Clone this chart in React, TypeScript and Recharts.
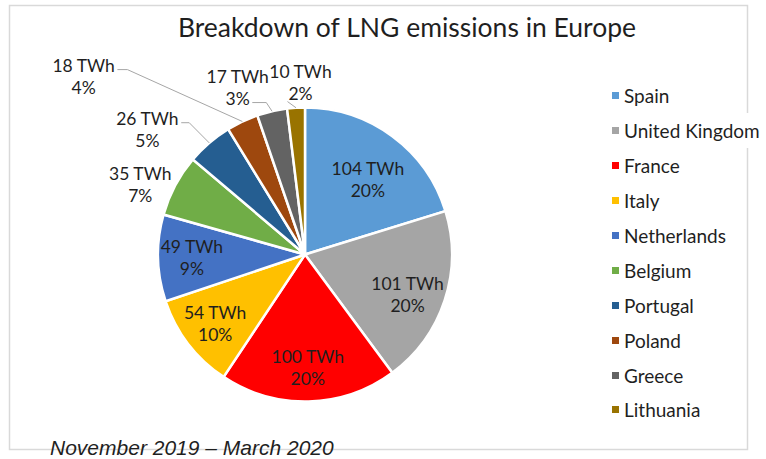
import React from 'react';
import { PieChart, Pie, Cell, Legend, Customized } from 'recharts';

const countries = ['Spain', 'United Kingdom', 'France', 'Italy', 'Netherlands', 'Belgium', 'Portugal', 'Poland', 'Greece', 'Lithuania'];
const twh = [104, 101, 100, 54, 49, 35, 26, 18, 17, 10];
const shares = ['20%', '20%', '20%', '10%', '9%', '7%', '5%', '4%', '3%', '2%'];
const colors = ['#5B9BD5', '#A5A5A5', '#FF0000', '#FFC000', '#4472C4', '#70AD47', '#255E91', '#9E480E', '#636363', '#997300'];

const data = countries.map((name, i) => ({ name, twh: twh[i], share: shares[i] }));

const RAD = Math.PI / 180;
const FONT = 'Lato, "Open Sans", sans-serif';
const TEXT = '#1f1f1f';

// label placement overrides (angle shift in deg, distance from centre), Excel best-fit style
const spots: Record<string, { shift: number; dist: number; leader?: string; run?: number }> = {
  Spain: { shift: 3.5, dist: 98 },
  'United Kingdom': { shift: 3, dist: 110 },
  Belgium: { shift: -5, dist: 179 },
  Portugal: { shift: -11, dist: 201, leader: 'line1', run: 8 },
  Poland: { shift: -26, dist: 284, leader: 'line1', run: 10 },
  Greece: { shift: -9, dist: 180, leader: 'line2', run: 14 },
  Lithuania: { shift: 2, dist: 172, leader: 'below' },
};

const renderLabel = (props: any) => {
  const { cx, cy, midAngle, outerRadius, index } = props;
  const d = data[index];
  const spot = spots[d.name];
  const theta = 90 - midAngle + (spot ? spot.shift : 0);
  const dist = spot ? spot.dist : outerRadius * 0.77;
  const x = cx + dist * Math.sin(theta * RAD);
  const y = cy - dist * Math.cos(theta * RAD);
  const line1 = `${d.twh} TWh`;

  let leader = null;
  if (spot && spot.leader) {
    const tip = (90 - midAngle) * RAD;
    const tx = cx + outerRadius * Math.sin(tip);
    const ty = cy - outerRadius * Math.cos(tip);
    let pts = '';
    if (spot.leader === 'below') {
      pts = `${x - 13},${y + 19} ${tx},${ty}`;
    } else {
      const txt = spot.leader === 'line1' ? line1 : d.share;
      const ly = (spot.leader === 'line1' ? y - 11 : y + 11) + 4;
      const sx = x + txt.length * 4.8 + 5;
      pts = `${sx},${ly} ${sx + (spot.run || 0)},${ly} ${tx},${ty}`;
    }
    leader = <polyline points={pts} fill="none" stroke="#a6a6a6" strokeWidth={1} />;
  }

  return (
    <g>
      {leader}
      <text x={x} y={y - 11} textAnchor="middle" dominantBaseline="central" fontFamily={FONT} fontSize={17.5} fill={TEXT}>
        {line1}
      </text>
      <text x={x} y={y + 11} textAnchor="middle" dominantBaseline="central" fontFamily={FONT} fontSize={17.5} fill={TEXT}>
        {d.share}
      </text>
    </g>
  );
};

const renderLegend = () => (
  <div style={{ fontFamily: FONT, fontSize: 19, color: TEXT, whiteSpace: 'nowrap' }}>
    {countries.map((c, i) => (
      <div key={c} style={{ height: 34.9, display: 'flex', alignItems: 'center' }}>
        <span style={{ display: 'inline-flex', alignItems: 'center', height: '100%', background: '#fff', paddingRight: 2 }}>
          <span style={{ display: 'inline-block', width: 7, height: 7, background: colors[i], marginRight: 5 }} />
          {c}
        </span>
      </div>
    ))}
  </div>
);

const Frame = () => (
  <g>
    <rect x={9.5} y={5.5} width={738} height={444} fill="none" stroke="#d9d9d9" strokeWidth={1.5} />
    <text x={407} y={37} textAnchor="middle" fontFamily={FONT} fontSize={26.5} fill={TEXT}>
      Breakdown of LNG emissions in Europe
    </text>
    <text x={50} y={455} fontFamily='"Liberation Sans", Arial, sans-serif' fontStyle="italic" fontSize={21} fill={TEXT}>
      November 2019 – March 2020
    </text>
  </g>
);

const App = () => {
  return (
    <div style={{ position: 'absolute', left: 0, top: 0, width: 766, height: 459, background: '#fff' }}>
      <PieChart width={766} height={459} margin={{ top: 0, right: 0, bottom: 0, left: 0 }}>
        <Customized component={Frame} />
        <Pie
          data={data}
          dataKey="twh"
          nameKey="name"
          cx={305}
          cy={254.5}
          outerRadius={147}
          startAngle={90}
          endAngle={-270}
          stroke="#fff"
          strokeWidth={2.5}
          label={renderLabel}
          labelLine={false}
          isAnimationActive={false}
        >
          {data.map((d, i) => (
            <Cell key={d.name} fill={colors[i]} />
          ))}
        </Pie>
        <Legend
          layout="vertical"
          align="right"
          verticalAlign="top"
          content={renderLegend}
          wrapperStyle={{ left: 612, top: 78.5, right: 'auto', width: 'auto' }}
        />
      </PieChart>
    </div>
  );
};

export default App;
